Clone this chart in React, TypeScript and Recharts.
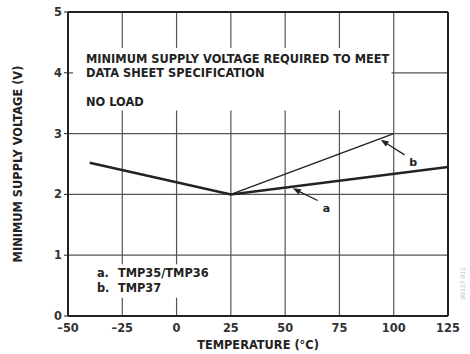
import React from "react";
import {
  ComposedChart,
  Line,
  XAxis,
  YAxis,
  CartesianGrid,
  ReferenceArea,
  ReferenceLine,
  ReferenceDot,
} from "recharts";

// --- data ---
const tempTicks = [-50, -25, 0, 25, 50, 75, 100, 125];
const voltTicks = [0, 1, 2, 3, 4, 5];

const seriesA = [
  { t: -40, v: 2.52 },
  { t: 25, v: 2.0 },
  { t: 125, v: 2.45 },
];
const seriesB = [
  { t: 25, v: 2.0 },
  { t: 100, v: 3.0 },
];

const noteLines = [
  "MINIMUM SUPPLY VOLTAGE REQUIRED TO MEET",
  "DATA SHEET SPECIFICATION",
];
const loadNote = "NO LOAD";
const legendLines = [
  { key: "a.", name: "TMP35/TMP36" },
  { key: "b.", name: "TMP37" },
];

const FONT = "'DejaVu Sans', 'Liberation Sans', Arial, sans-serif";
const INK = "#222";
const GRID = "#555";
const FS = 11.4;

// arrow: line from tail to tip with a small filled head at the tip
function Arrow(props: any) {
  const { x1, y1, x2, y2 } = props;
  if ([x1, y1, x2, y2].some((n) => typeof n !== "number")) return null;
  const dx = x2 - x1;
  const dy = y2 - y1;
  const len = Math.sqrt(dx * dx + dy * dy) || 1;
  const ux = dx / len;
  const uy = dy / len;
  const hl = 8;
  const hw = 3;
  const bx = x2 - ux * hl;
  const by = y2 - uy * hl;
  return (
    <g>
      <line x1={x1} y1={y1} x2={bx} y2={by} stroke={INK} strokeWidth={1.3} />
      <polygon
        points={`${x2},${y2} ${bx - uy * hw},${by + ux * hw} ${bx + uy * hw},${by - ux * hw}`}
        fill={INK}
      />
    </g>
  );
}

function TextBox(lines: { text: string; dy: number }[], dx: number) {
  return (props: any) => {
    const { x, y, width, height } = props;
    return (
      <g>
        <rect x={x} y={y} width={width} height={height} fill="#fff" />
        {lines.map((l, i) => (
          <text
            key={i}
            x={x + dx}
            y={y + l.dy}
            fontFamily={FONT}
            fontWeight={700}
            fontSize={FS}
            fill={INK}
          >
            {l.text}
          </text>
        ))}
      </g>
    );
  };
}

const noteShape = TextBox(
  [
    { text: noteLines[0], dy: 15 },
    { text: noteLines[1], dy: 29 },
    { text: loadNote, dy: 58 },
  ],
  13
);

function LegendShape(props: any) {
  const { x, y, width, height } = props;
  return (
    <g>
      <rect x={x} y={y} width={width} height={height} fill="#fff" />
      {legendLines.map((l, i) => (
        <g key={l.key} fontFamily={FONT} fontWeight={700} fontSize={FS} fill={INK}>
          <text x={x + 5} y={y + 13 + i * 15}>{l.key}</text>
          <text x={x + 26} y={y + 13 + i * 15}>{l.name}</text>
        </g>
      ))}
    </g>
  );
}

function Letter(text: string) {
  return (props: any) => (
    <text
      x={props.cx}
      y={props.cy}
      textAnchor="middle"
      dominantBaseline="central"
      fontFamily={FONT}
      fontWeight={700}
      fontSize={11}
      fill={INK}
    >
      {text}
    </text>
  );
}

export default function App() {
  return (
    <div style={{ position: "absolute", left: 0, top: 0, width: 470, height: 354, background: "#fff" }}>
      <ComposedChart
        width={470}
        height={354}
        margin={{ top: 12, right: 22, bottom: 18, left: 28 }}
      >
        <CartesianGrid stroke={GRID} strokeWidth={1.2} />
        <XAxis
          type="number"
          dataKey="t"
          domain={[-50, 125]}
          ticks={tempTicks}
          allowDataOverflow
          height={20}
          stroke={INK}
          axisLine={{ stroke: INK, strokeWidth: 2 }}
          tickLine={false}
          tick={{ fontSize: FS, fontWeight: 700, fill: "#333", fontFamily: FONT }}
          tickFormatter={(v) => (v < 0 ? `\u2013${Math.abs(v)}` : `${v}`)}
          tickMargin={2}
          label={{
            value: "TEMPERATURE (\u00B0C)",
            position: "bottom",
            offset: 5,
            style: { fontSize: FS, fontWeight: 700, fill: INK, fontFamily: FONT },
          }}
        />
        <YAxis
          type="number"
          dataKey="v"
          domain={[0, 5]}
          ticks={voltTicks}
          allowDataOverflow
          width={40}
          axisLine={{ stroke: INK, strokeWidth: 2 }}
          tickLine={{ stroke: INK }}
          tickSize={4}
          tick={{ fontSize: FS, fontWeight: 700, fill: "#333", fontFamily: FONT }}
          tickMargin={2}
          label={{
            value: "MINIMUM SUPPLY VOLTAGE (V)",
            angle: -90,
            position: "insideLeft",
            offset: -10,
            style: { fontSize: FS, fontWeight: 700, fill: INK, fontFamily: FONT, textAnchor: "middle" },
          }}
        />
        <ReferenceLine y={5} stroke={INK} strokeWidth={2} />
        <ReferenceLine x={125} stroke={INK} strokeWidth={2} />

        <ReferenceArea x1={-47.7} x2={99} y1={3.38} y2={4.41} shape={noteShape} />
        <ReferenceArea x1={-39} x2={15} y1={0.3} y2={0.85} shape={LegendShape} />

        <Line
          data={seriesB}
          dataKey="v"
          type="linear"
          stroke={INK}
          strokeWidth={1.5}
          dot={false}
          isAnimationActive={false}
        />
        <Line
          data={seriesA}
          dataKey="v"
          type="linear"
          stroke={INK}
          strokeWidth={2.5}
          dot={false}
          isAnimationActive={false}
        />

        <ReferenceLine
          segment={[
            { x: 105, y: 2.65 },
            { x: 94, y: 2.9 },
          ]}
          shape={Arrow}
        />
        <ReferenceLine
          segment={[
            { x: 65, y: 1.9 },
            { x: 53.5, y: 2.1 },
          ]}
          shape={Arrow}
        />
        <ReferenceDot x={109} y={2.52} r={0} shape={Letter("b")} />
        <ReferenceDot x={69} y={1.77} r={0} shape={Letter("a")} />
      </ComposedChart>
      <div
        style={{
          position: "absolute",
          left: 440,
          top: 280,
          width: 44,
          transform: "rotate(-90deg)",
          fontSize: 6,
          color: "#bbb",
          fontFamily: FONT,
          textAlign: "center",
        }}
      >
        00337-011
      </div>
    </div>
  );
}
